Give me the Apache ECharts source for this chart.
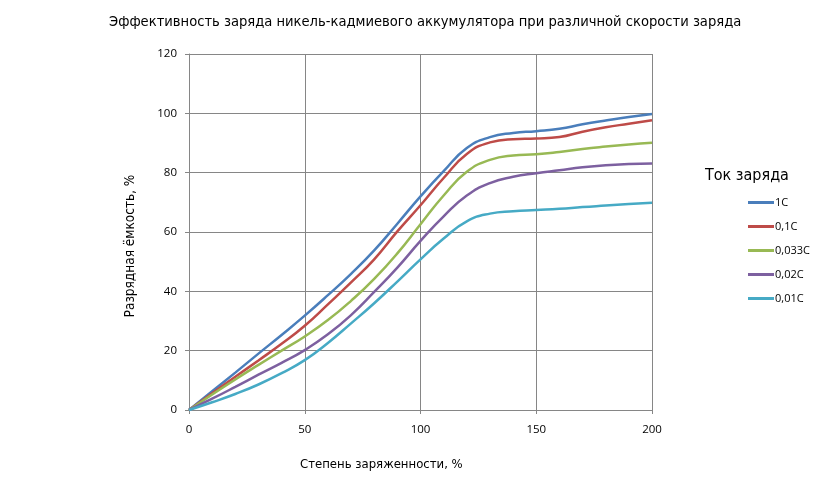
<!DOCTYPE html>
<html>
<head>
<meta charset="utf-8">
<script src="https://cdn.jsdelivr.net/npm/echarts@6/dist/echarts.min.js"></script>
<style>
  html, body { margin: 0; padding: 0; background: #fff; }
  #chart { width: 823px; height: 496px; }
</style>
</head>
<body>
<div id="chart"></div>
<script>
// степень заряженности, %
const xs = [0, 10, 20, 30, 40, 50, 60, 70, 80, 90, 100, 110, 120, 130, 140, 150, 160, 170, 180, 190, 200];

// разрядная ёмкость, % для каждого тока заряда
const c1 = [0, 6.3, 12.6, 19, 25.3, 31.8, 38.7, 45.9, 53.8, 62.8, 72, 80.5, 88.3, 92, 93.4, 94, 94.8, 96.3, 97.6, 98.8, 99.8];
const c01 = [0, 5.6, 11.2, 16.7, 22.3, 28.4, 35.6, 43, 50.8, 60.2, 69, 78.2, 86.3, 90.2, 91.3, 91.5, 92, 93.8, 95.3, 96.5, 97.7];
const c0033 = [0, 5.2, 10.3, 15.2, 20, 24.8, 30.3, 36.8, 44.2, 52.8, 62.6, 72.3, 80.3, 84.3, 85.8, 86.2, 87, 88, 88.8, 89.5, 90.1];
const c002 = [0, 3.8, 7.8, 11.9, 15.9, 20.2, 25.5, 32, 39.8, 48, 57, 65.3, 72.3, 76.5, 78.6, 79.8, 80.8, 81.8, 82.5, 82.9, 83.1];
const c001 = [0, 2.6, 5.4, 8.6, 12.4, 16.8, 22.6, 29.2, 36, 43.3, 50.8, 57.8, 63.6, 66.2, 67, 67.4, 67.8, 68.4, 68.9, 69.4, 69.9];

const names = ['1C', '0,1C', '0,033C', '0,02C', '0,01C'];
const values = [c1, c01, c0033, c002, c001];
const colors = ['#4A7EBB', '#BE4B48', '#98B954', '#7D60A0', '#46AAC5'];

const narrow = '"DejaVu Sans Condensed", sans-serif';

const chart = echarts.init(document.getElementById('chart'));

chart.setOption({
  animation: false,
  color: colors,
  title: {
    text: 'Эффективность заряда никель-кадмиевого аккумулятора при различной скорости заряда',
    left: 104,
    top: 10,
    textStyle: { fontFamily: narrow, fontSize: 14.6, fontWeight: 'normal', color: '#000' }
  },
  graphic: [
    {
      type: 'text', left: 300, top: 458,
      style: { text: 'Степень заряженности, %', font: '13px ' + narrow, fill: '#000' }
    },
    {
      type: 'text', x: 130, y: 246, rotation: Math.PI / 2,
      style: { text: 'Разрядная ёмкость, %', font: '13.5px ' + narrow, fill: '#000', align: 'center', verticalAlign: 'middle' }
    },
    {
      type: 'text', left: 705, top: 168,
      style: { text: 'Ток заряда', font: '16px ' + narrow, fill: '#000' }
    }
  ],
  legend: {
    orient: 'vertical',
    left: 743,
    top: 192,
    icon: 'rect',
    itemWidth: 26,
    itemHeight: 3,
    itemGap: 13,
    textStyle: { fontFamily: 'Open Sans', fontSize: 11, color: '#000', padding: [0, 0, 0, -4] },
    data: names
  },
  grid: { left: 189, right: 171, top: 54, bottom: 86 },
  xAxis: {
    type: 'value',
    min: 0, max: 200, interval: 50,
    axisLine: { lineStyle: { color: '#868686' } },
    axisTick: { show: true, length: 4, lineStyle: { color: '#868686' } },
    splitLine: { show: true, lineStyle: { color: '#868686' } },
    axisLabel: { margin: 14, fontFamily: 'Open Sans', fontSize: 11.5, color: '#000' }
  },
  yAxis: {
    type: 'value',
    min: 0, max: 120, interval: 20,
    axisLine: { show: true, lineStyle: { color: '#868686' } },
    axisTick: { show: true, length: 4, lineStyle: { color: '#868686' } },
    splitLine: { show: true, lineStyle: { color: '#868686' } },
    axisLabel: { margin: 12, fontFamily: 'Open Sans', fontSize: 11.5, color: '#000' }
  },
  series: names.map((n, i) => ({
    name: n,
    type: 'line',
    smooth: 0.5,
    symbol: 'none',
    lineStyle: { width: 2.5, color: colors[i] },
    data: xs.map((x, j) => [x, values[i][j]])
  }))
});
</script>
</body>
</html>
